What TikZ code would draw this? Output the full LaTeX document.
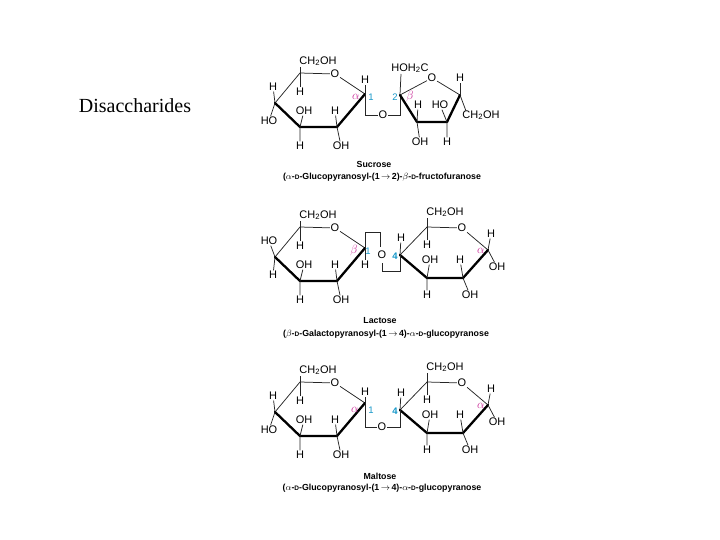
\documentclass[tikz,border=0pt]{standalone}
\usepackage{fontspec}
\setmainfont{Liberation Serif}
\setsansfont{Liberation Sans}
\definecolor{mag}{RGB}{200,40,150}
\definecolor{cyn}{RGB}{20,150,200}
\newcommand\dd{{\fontsize{6.5}{8}\selectfont D}}
\tikzset{
  lab/.style={font=\sffamily\fontsize{11}{12}\selectfont, inner sep=0.6pt},
  gl/.style={font=\fontsize{11.5}{12}\selectfont, inner sep=0.5pt, text=mag},
  nb/.style={font=\sffamily\fontsize{9.5}{10}\selectfont, inner sep=0.5pt, text=cyn},
  captxt/.style={font=\sffamily\bfseries\fontsize{8.8}{10}\selectfont, inner sep=0pt},
  bond/.style={line width=0.75pt, black!85},
  thickb/.style={line width=2.3pt, line join=round, line cap=round}
}
\newcommand\lring[1]{% #1 = 1 glucose, 0 galactose
 \coordinate (c5) at (300,382); \node[lab] (o) at (335,383) {O};
 \coordinate (c1) at (365,403); \coordinate (c2) at (337,436);
 \coordinate (c3) at (300,436); \coordinate (c4) at (275,412);
 \draw[bond] (c4)--(c5)--(o)--(c1);
 \draw[thickb] (c1)--(c2)--(c3)--(c4);
 \node[lab] (ch) at (318,370) {CH\textsubscript{2}OH};
 \draw[bond] (c5)--(300,376);
 \node[lab] (h5) at (300,401) {H}; \draw[bond] (c5)--(h5);
 \ifnum#1=1
  \node[lab] (u4) at (273,396) {H}; \node[lab] (d4) at (269,430) {HO};
 \else
  \node[lab] (u4) at (269,396) {HO}; \node[lab] (d4) at (273,430) {H};
 \fi
 \draw[bond] (u4)--(c4)--(d4);
 \node[lab] (u3) at (304,420) {OH}; \node[lab] (d3) at (300,455) {H};
 \draw[bond] (u3)--(c3)--(d3);
 \node[lab] (u2) at (335,420) {H}; \node[lab] (d2) at (341,455) {OH};
 \draw[bond] (u2)--(c2)--(d2);
}
\newcommand\rring{%
 \coordinate (r4) at (400,410); \coordinate (r5) at (427,382);
 \node[lab] (ro) at (462,383) {O}; \coordinate (r1) at (488,405);
 \coordinate (r2) at (463,433); \coordinate (r3) at (427,433);
 \draw[bond] (r4)--(r5)--(ro)--(r1);
 \draw[thickb] (r1)--(r2)--(r3)--(r4);
 \node[lab] (rch) at (445,367) {CH\textsubscript{2}OH};
 \draw[bond] (r5)--(427,373);
 \node[lab] (rh5) at (427,400) {H}; \draw[bond] (r5)--(rh5);
 \node[lab] (rh4) at (401,393) {H}; \draw[bond] (r4)--(rh4);
 \node[lab] (ru3) at (430,415) {OH}; \node[lab] (rd3) at (427,450) {H};
 \draw[bond] (ru3)--(r3)--(rd3);
 \node[lab] (ru2) at (460,415) {H}; \node[lab] (rd2) at (470,450) {OH};
 \draw[bond] (ru2)--(r2)--(rd2);
 \node[lab] (ru1) at (491,389) {H}; \node[lab] (rd1) at (497,422) {OH};
 \draw[bond] (ru1)--(r1)--(rd1);
 \node[gl] (ra) at (481,406) {$\alpha$};
 \node[nb, font=\sffamily\bfseries\fontsize{9.5}{10}\selectfont] (n4) at (395,411) {4};
}
\begin{document}
\begin{tikzpicture}[x=1pt,y=-1pt]
\useasboundingbox (0,0) rectangle (720,540);
\node[font=\fontsize{20}{24}\selectfont, inner sep=0pt] (title) at (135,106) {Disaccharides};
% ---------- Sucrose ----------
\begin{scope}[name prefix=s-, shift={(0,-309)}]
 \lring{1}
 \node[lab] (h1) at (365,389) {H}; \draw[bond] (c1)--(h1);
 \node[gl] (a1) at (356,406) {$\alpha$}; \node[nb] (n1) at (371,406) {1};
 \node[lab] (ol) at (383,424) {O};
 \coordinate (f2) at (400,404);
 \draw[bond] (c1)--(365,424)--(ol)--(400,424)--(f2);
 \node[lab] (fo) at (432,387) {O}; \coordinate (f5) at (460,404);
 \coordinate (f4) at (447,431); \coordinate (f3) at (417,431);
 \draw[bond] (f2)--(fo)--(f5);
 \draw[thickb] (f5)--(f4)--(f3)--(f2);
 \node[lab] (hoh) at (410,377) {HOH\textsubscript{2}C}; \draw[bond] (f2)--(401,383);
 \node[nb] (n2) at (395,406) {2}; \node[gl] (b2) at (410,406) {$\beta$};
 \node[lab] (fh5) at (460,387) {H}; \draw[bond] (f5)--(fh5);
 \node[lab] (fch) at (481,424) {CH\textsubscript{2}OH}; \draw[bond] (f5)--(466,420);
 \node[lab] (fu4) at (440,414) {HO}; \node[lab] (fd4) at (447,451) {H};
 \draw[bond] (fu4)--(f4)--(fd4);
 \node[lab] (fu3) at (418,414) {H}; \node[lab] (fd3) at (420,451) {OH};
 \draw[bond] (fu3)--(f3)--(fd3);
 \node[captxt] (t1) at (374,473) {Sucrose};
 \node[captxt] (t2) at (382,486) {($\alpha$-\dd-Glucopyranosyl-(1\,$\rightarrow$\,2)-$\beta$-\dd-fructofuranose};
\end{scope}
% ---------- Lactose ----------
\begin{scope}[name prefix=l-, shift={(0,-155)}]
 \lring{0}
 \rring
 \node[lab] (h1) at (365,420) {H}; \draw[bond] (c1)--(h1);
 \node[gl] (b1) at (354,406) {$\beta$}; \node[nb] (n1) at (368,406) {1};
 \node[lab] (ol) at (382,410) {O};
 \draw[bond] (c1)--(365,387)--(380,387)--(380,402);
 \draw[bond] (382,418)--(382,426)--(400,426)--(r4);
 \node[captxt] (t1) at (380,476) {Lactose};
 \node[captxt] (t2) at (386,489) {($\beta$-\dd-Galactopyranosyl-(1\,$\rightarrow$\,4)-$\alpha$-\dd-glucopyranose};
\end{scope}
% ---------- Maltose ----------
\begin{scope}[name prefix=m-]
 \lring{1}
 \rring
 \node[lab] (h1) at (365,392) {H}; \draw[bond] (c1)--(h1);
 \node[gl] (a1) at (355,410) {$\alpha$}; \node[nb] (n1) at (371,410) {1};
 \node[lab] (ol) at (382,427) {O};
 \draw[bond] (c1)--(365,427)--(ol)--(400,427)--(r4);
 \node[captxt] (t1) at (380,476) {Maltose};
 \node[captxt] (t2) at (382,488) {($\alpha$-\dd-Glucopyranosyl-(1\,$\rightarrow$\,4)-$\alpha$-\dd-glucopyranose};
\end{scope}
\end{tikzpicture}
\end{document}
